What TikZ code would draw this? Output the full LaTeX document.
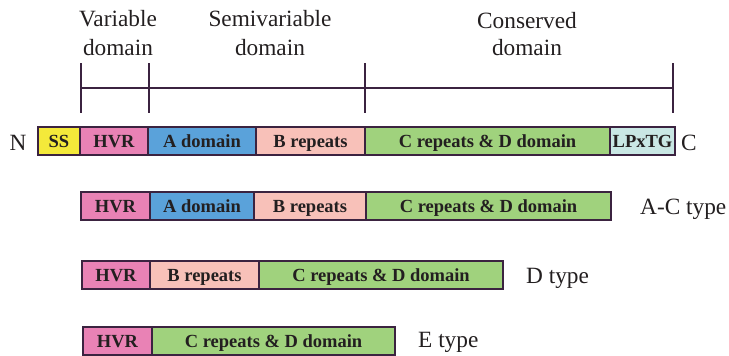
\documentclass[tikz,border=0pt]{standalone}
\usepackage{fontspec}
\setmainfont{Liberation Serif}
\definecolor{ssfill}{HTML}{F4E93A}
\definecolor{hvrfill}{HTML}{E982B5}
\definecolor{afill}{HTML}{5AA2DA}
\definecolor{bfill}{HTML}{F8C1B9}
\definecolor{cfill}{HTML}{A0D27D}
\definecolor{lpxfill}{HTML}{C9E7E4}
\definecolor{edge}{HTML}{3B2340}
\definecolor{ink}{HTML}{231F20}
\begin{document}
\begin{tikzpicture}[x=1pt,y=-1pt,
  seg/.style={draw=edge, line width=1.4pt, rectangle, outer sep=0pt, inner sep=0pt,
    minimum height=28pt, anchor=north west, text=ink, text height=13.5pt, text depth=0.5pt,
    font=\fontsize{18.5}{20}\selectfont\bfseries},
  lab/.style={text=ink, inner sep=0pt, font=\fontsize{23.3}{28}\selectfont},
  rule/.style={draw=edge, line width=1.2pt}]
\useasboundingbox (0,0) rectangle (729,356);

% domain ruler
\coordinate (t1) at (81,88);
\coordinate (t2) at (149,88);
\coordinate (t3) at (365,88);
\coordinate (t4) at (673,88);
\draw[rule] (t1) -- (t4);
\foreach \t in {t1,t2,t3,t4} \draw[rule] (\t) ++(0,-25) -- ++(0,50);

\node[lab, anchor=base] (var1) at (118,27) {Variable};
\node[lab, anchor=base] (var2) at (118,55) {domain};
\node[lab, anchor=base] (semi1) at (270,27) {Semivariable};
\node[lab, anchor=base] (semi2) at (270,55) {domain};
\node[lab, anchor=base] (cons1) at (527,28) {Conserved};
\node[lab, anchor=base] (cons2) at (527,56) {domain};

% full-length protein
\node[seg, fill=ssfill, minimum width=42pt] (ss) at (38,127) {SS};
\node[seg, fill=hvrfill, minimum width=68pt] (hvr1) at (ss.north east) {HVR};
\node[seg, fill=afill, minimum width=108pt] (a1) at (hvr1.north east) {A domain};
\node[seg, fill=bfill, minimum width=109pt] (b1) at (a1.north east) {B repeats};
\node[seg, fill=cfill, minimum width=245pt] (c1) at (b1.north east) {C repeats \& D domain};
\node[seg, fill=lpxfill, minimum width=65pt] (lpx) at (c1.north east) {LPxTG};
\node[lab, anchor=base] (nterm) at (18,150) {N};
\node[lab, anchor=base west] (cterm) at (681,150) {C};

% A-C type
\node[seg, fill=hvrfill, minimum width=69pt] (hvr2) at (81,192) {HVR};
\node[seg, fill=afill, minimum width=104pt] (a2) at (hvr2.north east) {A domain};
\node[seg, fill=bfill, minimum width=112pt] (b2) at (a2.north east) {B repeats};
\node[seg, fill=cfill, minimum width=245pt] (c2) at (b2.north east) {C repeats \& D domain};
\node[lab, anchor=base west] (actype) at (640,214) {A-C type};

% D type
\node[seg, fill=hvrfill, minimum width=68pt] (hvr3) at (82,261) {HVR};
\node[seg, fill=bfill, minimum width=109pt] (b3) at (hvr3.north east) {B repeats};
\node[seg, fill=cfill, minimum width=244pt] (c3) at (b3.north east) {C repeats \& D domain};
\node[lab, anchor=base west] (dtype) at (526,283) {D type};

% E type
\node[seg, fill=hvrfill, minimum width=69pt] (hvr4) at (83,327) {HVR};
\node[seg, fill=cfill, minimum width=243pt] (c4) at (hvr4.north east) {C repeats \& D domain};
\node[lab, anchor=base west] (etype) at (418,347) {E type};
\end{tikzpicture}
\end{document}
